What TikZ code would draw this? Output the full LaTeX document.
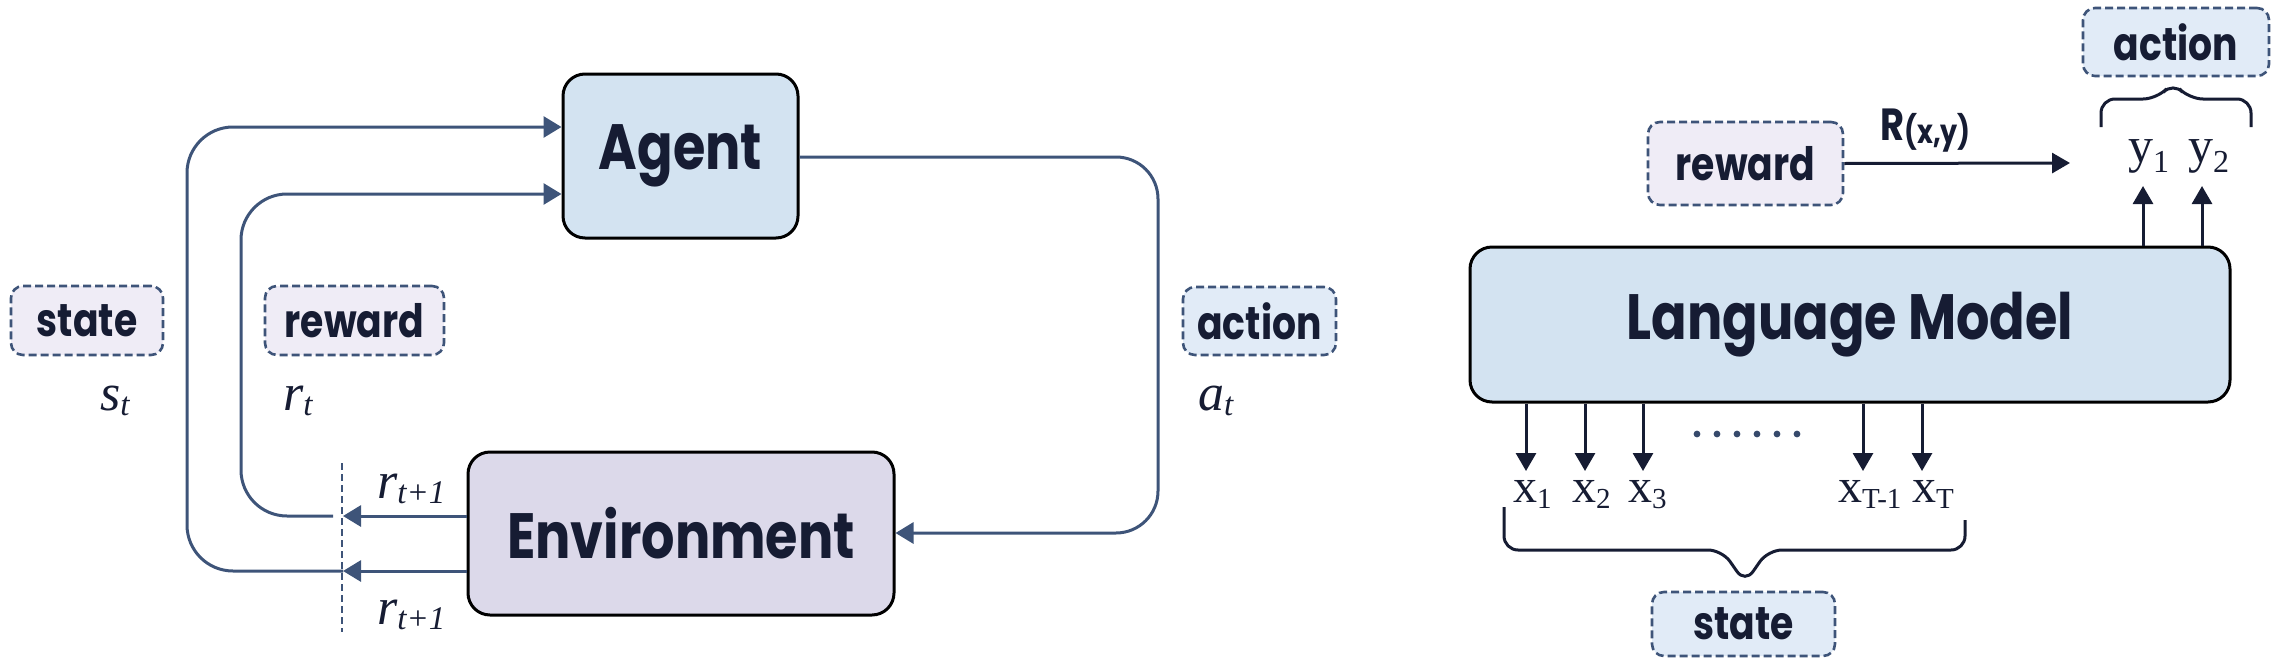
\documentclass[tikz,border=0pt]{standalone}
\usepackage{fontspec}
\usetikzlibrary{arrows.meta}
\newfontfamily\labfont{Poppins}[FakeStretch=0.82]
\newfontfamily\tnr{Liberation Serif}
\definecolor{navy}{HTML}{161C33}
\definecolor{slate}{HTML}{3E5479}
\definecolor{bluefill}{HTML}{D3E3F1}
\definecolor{lavfill}{HTML}{DCD9EA}
\definecolor{lavlab}{HTML}{EFECF6}
\definecolor{bluelab}{HTML}{E1EBF7}
\newcommand{\vari}[2]{{\tnr\itshape\fontsize{52}{52}\selectfont #1\raisebox{-5pt}{\fontsize{33}{33}\selectfont #2}}}
\newcommand{\tokx}[2]{{\tnr\fontsize{48}{48}\selectfont #1\raisebox{-6pt}{\fontsize{29}{29}\selectfont #2}}}
\newcommand{\toky}[2]{{\tnr\fontsize{50}{50}\selectfont #1\raisebox{-10pt}{\fontsize{32}{32}\selectfont #2}}}
\begin{document}
\begin{tikzpicture}[x=1pt,y=-1pt,
  bigbox/.style={draw=black, line width=3pt, rounded corners=22pt, inner sep=0pt,
    text=navy, font=\labfont\bfseries\fontsize{64}{64}\selectfont},
  lbl/.style={draw=slate, line width=2.6pt, dash pattern=on 8pt off 4pt, rounded corners=12pt,
    inner sep=0pt, text=navy, font=\labfont\bfseries\fontsize{46}{46}\selectfont},
  arr/.style={draw=slate, line width=3pt, -{Triangle[length=18pt,width=21pt]}},
  flow/.style={draw=slate, line width=3pt, rounded corners=46pt},
  narr/.style={draw=navy, line width=3pt, -{Triangle[length=18pt,width=20pt]}},
  brace/.style={draw=navy, line width=3pt, rounded corners=14pt},
  txt/.style={inner sep=0pt, text=navy, anchor=base west}]
\useasboundingbox (0,0) rectangle (2273,664);

% ---------- left: RL loop ----------
\node[bigbox, fill=bluefill, minimum width=235pt, minimum height=164pt] (agent) at (680.5,156) {Agent};
\node[bigbox, fill=lavfill, minimum width=426pt, minimum height=163pt] (env) at (681,533.5) {Environment};

\node[lbl, fill=lavlab, minimum width=152pt, minimum height=69pt] (stateL) at (87,320.5) {state};
\node[lbl, fill=lavlab, minimum width=179pt, minimum height=69pt] (rewardL) at (354.5,320.5) {reward};
\node[lbl, fill=bluelab, minimum width=153pt, minimum height=68pt] (actionL) at (1259.5,321) {action};

\node[txt] (st) at (100,410) {\vari{s}{t}};
\node[txt] (rt) at (283,410) {\vari{r}{t}};
\node[txt] (at) at (1198,410) {\vari{a}{t}};
\node[txt] (r1) at (377,498) {\vari{r}{t+1}};
\node[txt] (r2) at (377,624) {\vari{r}{t+1}};

% dashed separator
\coordinate (dtop) at (342,463);
\coordinate (dbot) at (342,632);
\draw[slate, line width=2pt, dash pattern=on 7pt off 4pt] (dtop) -- (dbot);

% env -> cut line
\coordinate (e1) at (env.west |- 0,516);
\coordinate (e2) at (env.west |- 0,571);
\coordinate (c1) at (343,516);
\coordinate (c2) at (343,571);
\coordinate (c1b) at (333,516);
\draw[arr] (e1) -- (c1);
\draw[arr] (e2) -- (c2);

% feedback to agent
\coordinate (a1) at (agent.west |- 0,127);
\coordinate (a2) at (agent.west |- 0,194);
\draw[flow, -{Triangle[length=18pt,width=21pt]}] (c2) -- (187,571) -- (187,127) -- (a1);
\draw[flow, -{Triangle[length=18pt,width=21pt]}] (c1b) -- (241,516) -- (241,194) -- (a2);

% action
\coordinate (ag) at (agent.east |- 0,157);
\coordinate (en) at (env.east |- 0,533);
\draw[flow, rounded corners=42pt, -{Triangle[length=18pt,width=21pt]}] (ag) -- (1158,157) -- (1158,533) -- (en);

% ---------- right: language model ----------
\node[bigbox, fill=bluefill, minimum width=760pt, minimum height=155pt] (lm) at (1850,324.5) {Language Model};

\node[lbl, fill=lavlab, minimum width=195pt, minimum height=83pt] (rewardR) at (1745.5,163.5) {reward};
\node[lbl, fill=bluelab, minimum width=186pt, minimum height=68pt] (actionR) at (2176,42) {action};
\node[lbl, fill=bluelab, minimum width=183pt, minimum height=64pt] (stateR) at (1743.5,624) {state};

\coordinate (rt2) at (2070,163);
\draw[narr] (rewardR.east) -- (rt2);
\node[txt] (Rxy) at (1880,140) {{\labfont\bfseries\fontsize{45}{45}\selectfont R}{\labfont\bfseries\fontsize{33}{33}\selectfont\raisebox{-3pt}{(x,y)}}};

\node[txt] (y1) at (2128,162) {\toky{y}{1}};
\node[txt] (y2) at (2188,162) {\toky{y}{2}};
\coordinate (u1) at (2143,186);
\coordinate (u2) at (2202,186);
\draw[narr] (lm.north -| u1) -- (u1);
\draw[narr] (lm.north -| u2) -- (u2);

\draw[brace] (2101,127) -- (2101,99) -- (2157,99) -- (2173,82) -- (2189,99) -- (2251,99) -- (2251,127);

% inputs
\foreach \n/\xx in {d1/1526,d2/1585,d3/1643,d4/1863,d5/1922}{
  \coordinate (\n) at (\xx,471);
  \draw[narr] (lm.south -| \n) -- (\n);
}
\foreach \i in {0,...,5}{
  \fill[slate!80!navy] (1697+20*\i,434) circle (3.4pt);
}
\node[txt] (x1) at (1513,502) {\tokx{x}{1}};
\node[txt] (x2) at (1572,502) {\tokx{x}{2}};
\node[txt] (x3) at (1628,502) {\tokx{x}{3}};
\node[txt] (xT1) at (1838,502) {\tokx{x}{T-1}};
\node[txt] (xT) at (1912,502) {\tokx{x}{T}};

\draw[brace] (1504,507) -- (1504,550) -- (1722,550) -- (1745,583) -- (1768,550) -- (1965,550) -- (1965,520);
\end{tikzpicture}
\end{document}
